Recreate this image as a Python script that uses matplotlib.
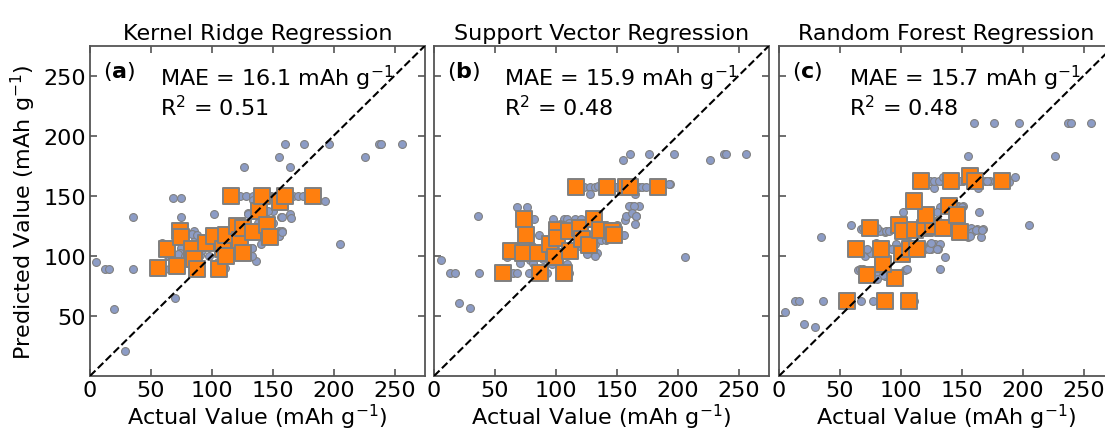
import matplotlib
matplotlib.use("Agg")
import matplotlib.pyplot as plt
import numpy as np

titles = ["Kernel Ridge Regression", "Support Vector Regression", "Random Forest Regression"]
panel_tags = ["a", "b", "c"]
mae_values = [16.1, 15.9, 15.7]
r2_values = [0.51, 0.48, 0.48]

# training points (actual, predicted)
krr_train = [(5, 94.8), (12.3, 89.3), (15.9, 89.3), (35.6, 89.3), (35, 132), (19.7, 55.5), (28.8, 20.5),
             (69.8, 64.7), (68, 148.4), (75, 148.4), (75, 132), (102, 135), (126.8, 174), (155, 182.4),
             (160, 193.5), (176, 193.5), (196, 193.5), (237, 193.5), (239, 193.5), (256, 193.5),
             (164, 174), (226, 182), (205, 110), (193, 146), (157, 132), (164.5, 135), (165, 131.5),
             (120.5, 150), (123, 150), (128, 150), (134, 150), (149, 150), (153, 150), (167, 150),
             (171, 150), (175, 150),
             (130, 135.6), (132, 134), (150.6, 137), (157.5, 132), (138, 127), (143, 127), (150.6, 127),
             (155, 120.6), (157.5, 120.6), (155, 116.5), (136, 95.8), (131.5, 100.3), (133, 106.6),
             (75, 106.6), (74, 102.5), (64, 99.7), (67.6, 89.5), (65, 89.3), (59, 110.8), (85, 120.6),
             (79.5, 119), (78, 117), (86, 115),
             (84, 118), (88, 117), (59, 109.5), (64.9, 99.7), (72.6, 101.7), (78, 99.7), (90.4, 101),
             (111, 90), (132.8, 106.6), (132.8, 99.7), (155, 116.3), (157.5, 119.6), (146.5, 137.6),
             (130, 135), (134, 146.8),
             (95, 112), (100, 118), (105, 120), (115, 118), (118, 110), (125, 115), (140, 118),
             (145, 118), (110, 108), (92, 105), (98, 100), (120, 105), (105, 95), (140, 110)]

svr_train = [(6, 96.5), (13.4, 86), (17, 86), (36.7, 86), (20.8, 60.5), (29.8, 56.4), (36, 133),
             (68.5, 141), (76, 141), (82, 130.8), (86.5, 117), (97.8, 130.8), (106.6, 130.8),
             (109.3, 130.8), (116, 130.8), (121, 130.8), (155.3, 180), (160.5, 184.7), (176.5, 184.7),
             (196.6, 184.7), (226.8, 180), (237.7, 184.7), (240, 184.7), (256.4, 184.7), (205.7, 99.3),
             (193.3, 159.8), (164.6, 151.7), (161.6, 141.2), (168, 141.2), (165.7, 133), (164.6, 126.6),
             (157, 130), (157.8, 133), (155.6, 117),
             (123, 157.3), (128.4, 157.3), (132.5, 157.3), (134.8, 158.5), (149, 157.3), (168.2, 157.3),
             (171, 157.3), (173.6, 157.3), (192.8, 160), (127.6, 151.7),
             (159.7, 141.8), (163.8, 141.8), (162.5, 135.7), (103.5, 126.6), (110.4, 127.4),
             (129.6, 113.6), (132.3, 109.5), (120, 116), (133.7, 102.6), (132.3, 100.3), (125.5, 101.2),
             (59.7, 99.3), (65.2, 86), (68, 86), (70.7, 94.3), (78.9, 96.5), (81.6, 93.7), (89.8, 97.6),
             (96.7, 92.9), (109, 92.9), (83, 105.3), (85.7, 101.2), (80.3, 108.6),
             (77.8, 86), (92.8, 86), (110.7, 86), (136.7, 113), (140.8, 113.6), (165.4, 133),
             (95, 112), (105, 118), (115, 120), (140, 122), (145, 125), (100, 105), (118, 108), (150, 126)]

rf_train = [(5.2, 53.3), (12.9, 62.4), (16.4, 62.4), (36.2, 62.4), (20.3, 43.1), (29.3, 40.9),
            (34.8, 115.8), (59.4, 126), (67.6, 122.5), (75.8, 122.5), (86.8, 119.7), (101.9, 136.2),
            (64.9, 88.1), (81.3, 83.7), (86.8, 83.2), (103.3, 88.1), (70.4, 99.7), (73.7, 103.9),
            (67.6, 62.4), (77.2, 62.4), (110.9, 62.4), (132.5, 88.7), (136.1, 98.9), (128, 110.3),
            (132, 110.3), (123.8, 110.3), (119.7, 105.9), (125, 105.9), (130.6, 105.9), (93.7, 105.9),
            (80, 110.8), (81.3, 105.9), (89.6, 106.7), (75.8, 102.6), (96.4, 110.3),
            (157.5, 123.3), (162.1, 122.5), (167.6, 122.5), (158, 119.6), (165.4, 115.8), (155.3, 115.8),
            (164.1, 136.2), (141.6, 141.2), (147.1, 141.2), (151.2, 141.2), (133.4, 141.2),
            (145.7, 135.7), (148.5, 132.9),
            (123.8, 162), (127.4, 156.5), (133.4, 162), (136.1, 164.8), (151.2, 162), (163.5, 156.5),
            (169, 162), (173.1, 162), (177.2, 162), (193.7, 165.6), (155.3, 183.3), (160.2, 210.9),
            (176.7, 210.9), (196.6, 210.9), (237.2, 210.9), (239.7, 210.9), (256.1, 210.9),
            (226.2, 183.3), (205.4, 125.8), (188.4, 161.1),
            (85.2, 83.7), (80.8, 81), (104.9, 89.3), (69.3, 89.3), (66.6, 89.3), (92.6, 105.9),
            (85.7, 105.9), (72.1, 105.9), (122.7, 105.9), (129.6, 105.9), (124.6, 110.8), (83, 120.5),
            (80.3, 123.3), (68.8, 123.3), (87.4, 121), (90, 121), (161.9, 121.9), (166.5, 121.9),
            (157, 116.9),
            (126.8, 162), (130.9, 162), (135, 166), (148.7, 162), (170.7, 162), (132.3, 141),
            (136.4, 141), (146, 141), (150.1, 141), (129.6, 136.6),
            (100, 120), (110, 122), (118, 124), (140, 122), (145, 120), (105, 108)]

# test points (actual, predicted)
krr_test = [(56, 89.5), (63, 106), (71.7, 91.5), (74, 120.6), (75, 116), (84, 106), (85.7, 97.5),
            (87.6, 89.3), (95, 110.8), (102, 116.5), (106, 89.3), (109, 106), (111.5, 100.3),
            (112, 117.7), (116, 150), (120.5, 124.7), (123, 113.6), (125.5, 102.5), (126, 123.3),
            (134, 120), (139, 137), (141, 150), (145, 126), (148, 115.8), (156, 145), (160, 150), (183, 150)]

svr_test = [(56.4, 86), (63, 104), (72.9, 102.6), (74.2, 130.8), (75.6, 117.7), (85.7, 102), (87, 86),
            (95.3, 109.5), (99.4, 99.3), (101.3, 121.3), (101.3, 115), (106.8, 86), (110.4, 120.5),
            (111.2, 104), (116.7, 157.3), (120, 123.3), (121.4, 114.2), (126.8, 108.9), (131, 130.8),
            (136.4, 121.9), (141.9, 157.3), (146, 121), (148, 117), (157.5, 157.3), (161, 157.3),
            (183.8, 157.3)]

rf_test = [(55.9, 62.4), (86.8, 62.4), (106.5, 62.4), (72.6, 84), (95, 81.8), (85.5, 92.9), (63.5, 105.9),
           (84, 105.9), (101.3, 101.2), (107.4, 105.9), (113.6, 105.9), (74.5, 123.3), (98.4, 126),
           (101.9, 120.5), (111.5, 121.9), (119.7, 123.3), (126.5, 124.6), (134.8, 123.3), (148.5, 120),
           (120.5, 134.3), (111, 146), (139.4, 141.8), (145.7, 134.3), (116.4, 162), (141.1, 162),
           (156.7, 166.7), (160.8, 162), (183.2, 162)]

train_sets = [krr_train, svr_train, rf_train]
test_sets = [krr_test, svr_test, rf_test]

plt.rcParams['font.family'] = 'DejaVu Sans'
plt.rcParams['font.size'] = 16

fig = plt.figure(figsize=(11.05, 4.31), dpi=100)
lefts = [0.0814, 0.3928, 0.705]
spine_col = '#555555'

for i in range(3):
    ax = fig.add_axes([lefts[i], 0.1253, 0.3032, 0.7664])
    tr = np.array(train_sets[i])
    te = np.array(test_sets[i])
    ax.scatter(tr[:, 0], tr[:, 1], s=32, c='#8c9cc6', edgecolors='#808080', linewidths=0.8, zorder=2)
    ax.scatter(te[:, 0], te[:, 1], s=135, marker='s', c='#ff7f0e', edgecolors='#808080',
               linewidths=1.4, zorder=3)
    ax.plot([0, 275], [0, 275], 'k--', lw=1.5, zorder=4)
    ax.set_xlim(0, 275)
    ax.set_ylim(0, 275)
    ax.set_xticks([0, 50, 100, 150, 200, 250])
    ax.set_yticks([50, 100, 150, 200, 250])
    if i > 0:
        ax.set_yticklabels([])
    ax.tick_params(direction='in', length=5, width=1.2, color=spine_col, top=True, right=True,
                   labelsize=16, pad=3)
    for sp in ax.spines.values():
        sp.set_color(spine_col)
        sp.set_linewidth(1.3)
    ax.set_title(titles[i], fontsize=16, pad=5)
    ax.set_xlabel('Actual Value (mAh g$^{-1}$)', fontsize=16, labelpad=1)
    if i == 0:
        ax.set_ylabel('Predicted Value (mAh g$^{-1}$)', fontsize=16, labelpad=4)
    ax.text(0.04, 0.925, r'($\mathbf{%s}$)' % panel_tags[i], transform=ax.transAxes,
            fontsize=16, va='center')
    ax.text(0.21, 0.905, 'MAE = %.1f mAh g$^{-1}$' % mae_values[i], transform=ax.transAxes,
            fontsize=16, va='center')
    ax.text(0.21, 0.815, 'R$^2$ = %.2f' % r2_values[i], transform=ax.transAxes,
            fontsize=16, va='center')

fig.savefig('out.png', dpi=100)
